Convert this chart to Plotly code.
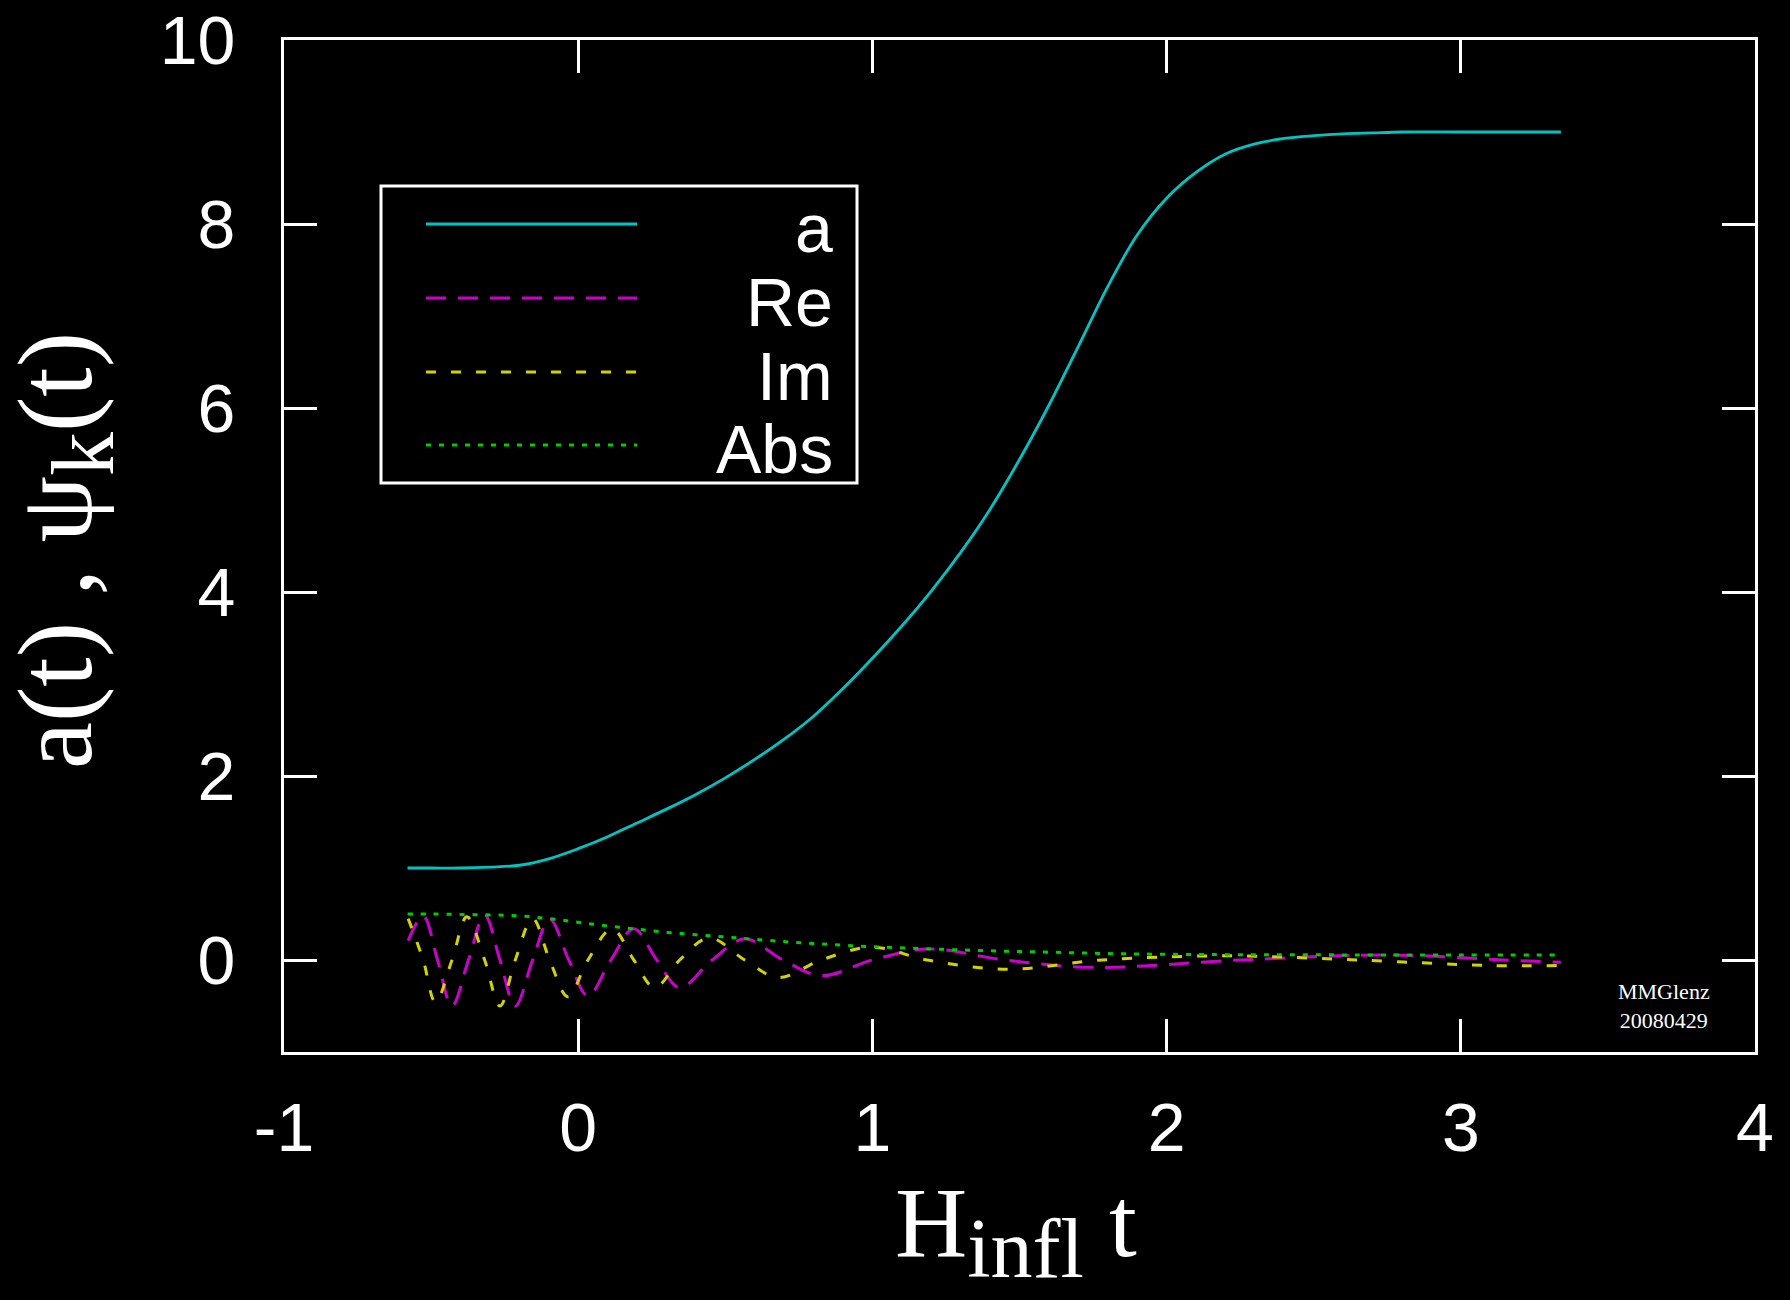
import plotly.graph_objects as go

# ---------------- data ----------------
t_a = [-0.58, -0.5, -0.4, -0.3, -0.2, -0.1, 0.0, 0.1, 0.2, 0.3, 0.4, 0.5, 0.6, 0.7,
       0.8, 0.9, 1.0, 1.1, 1.2, 1.3, 1.4, 1.5, 1.6, 1.7, 1.8, 1.9, 2.0, 2.1, 2.2,
       2.3, 2.4, 2.5, 2.6, 2.7, 2.8, 3.0, 3.2, 3.34]
a_vals = [1.00, 1.00, 1.00, 1.01, 1.03, 1.10, 1.21, 1.34, 1.49, 1.64, 1.80, 1.98, 2.18, 2.40,
          2.65, 2.95, 3.28, 3.63, 4.01, 4.43, 4.90, 5.44, 6.03, 6.67, 7.32, 7.88, 8.28, 8.56, 8.76,
          8.87, 8.93, 8.96, 8.98, 8.99, 9.00, 9.00, 9.00, 9.00]

t_re = [-0.578, -0.527, -0.478, -0.429, -0.373, -0.318, -0.266, -0.214, -0.155, -0.097,
        -0.032, 0.033, 0.111, 0.189, 0.267, 0.345, 0.455, 0.566, 0.696, 0.826, 1.0,
        1.186, 1.45, 1.75, 2.25, 2.75, 3.15, 3.34]
re_vals = [0.21, 0.48, 0.0, -0.50, 0.0, 0.49, 0.0, -0.50, 0.0, 0.445,
           0.0, -0.39, 0.0, 0.34, 0.0, -0.30, 0.0, 0.23, 0.0, -0.17, 0.0,
           0.12, 0.0, -0.08, 0.0, 0.055, 0.0, -0.025]

t_im = [-0.578, -0.527, -0.485, -0.429, -0.378, -0.318, -0.266, -0.214, -0.155, -0.097,
        -0.035, 0.033, 0.115, 0.189, 0.26, 0.345, 0.445, 0.566, 0.68, 0.826, 1.0,
        1.186, 1.46, 1.78, 2.2, 2.65, 3.1, 3.34]
im_vals = [0.45, 0.0, -0.46, 0.0, 0.47, 0.0, -0.50, 0.0, 0.45, 0.0,
           -0.40, 0.0, 0.34, 0.0, -0.30, 0.0, 0.24, 0.0, -0.19, 0.0, 0.14,
           0.0, -0.10, 0.0, 0.045, 0.0, -0.06, -0.06]

t_abs = [-0.58, -0.5, -0.4, -0.3, -0.2, -0.1, 0.0, 0.1, 0.2, 0.3, 0.4, 0.5, 0.6, 0.7,
         0.8, 0.9, 1.0, 1.2, 1.4, 1.6, 1.8, 2.0, 2.2, 2.5, 3.0, 3.34]
abs_vals = [0.50, 0.50, 0.495, 0.49, 0.48, 0.45, 0.41, 0.37, 0.335, 0.30, 0.275, 0.25, 0.225, 0.20,
            0.18, 0.16, 0.145, 0.12, 0.10, 0.085, 0.07, 0.062, 0.058, 0.056, 0.055, 0.055]

legend_names = ["a", "Re", "Im", "Abs"]
x_ticks = [-1, 0, 1, 2, 3, 4]
y_ticks = [0, 2, 4, 6, 8, 10]

# ---------------- styling ----------------
C_A = "#00c4c4"
C_RE = "#cc00cc"
C_IM = "#d2d200"
C_ABS = "#00cc00"
styles = [
    (C_A, "solid"),
    (C_RE, "20px,12px"),
    (C_IM, "10px,15px"),
    (C_ABS, "5px,8px"),
]
widths = [2.8, 3.0, 3.0, 3.0]

W, H = 1790, 1300
ML, MR, MT, MB = 284, 35, 40, 248
PW, PH = W - ML - MR, H - MT - MB


def px(xp):
    return (xp - ML) / PW


def py(yp):
    return (H - MB - yp) / PH


fig = go.Figure()
series = [(t_a, a_vals), (t_re, re_vals), (t_im, im_vals), (t_abs, abs_vals)]
for (xs, ys), name, (col, dash), lw in zip(series, legend_names, styles, widths):
    fig.add_trace(go.Scatter(
        x=xs, y=ys, mode="lines", name=name, showlegend=False,
        line=dict(color=col, width=lw, dash=dash, shape="spline", smoothing=1.0),
        hoverinfo="skip",
    ))

axis_common = dict(
    showline=True, linecolor="white", linewidth=3, mirror="allticks",
    ticks="inside", ticklen=33, tickwidth=2.5, tickcolor="white",
    showgrid=False, zeroline=False, automargin=False,
    tickfont=dict(family="Liberation Sans, Arial, sans-serif", size=68, color="white"),
)

fig.update_layout(
    width=W, height=H,
    margin=dict(l=ML, r=MR, t=MT, b=MB),
    paper_bgcolor="black", plot_bgcolor="black",
    xaxis=dict(range=[-1, 4], tickvals=x_ticks, ticktext=[str(v) for v in x_ticks],
               ticklabelstandoff=14, **axis_common),
    yaxis=dict(range=[-1, 10], tickvals=y_ticks, ticktext=[str(v) for v in y_ticks],
               ticklabelstandoff=32, **axis_common),
    showlegend=False,
)

# ---------------- legend box (gnuplot style) ----------------
shapes = [dict(type="rect", xref="paper", yref="paper",
               x0=px(381), x1=px(857), y0=py(483), y1=py(186),
               line=dict(color="white", width=3), fillcolor="black", layer="above")]
rows = [224, 298, 372, 445]
annotations = []
for name, (col, dash), ry in zip(legend_names, styles, rows):
    shapes.append(dict(type="line", xref="paper", yref="paper",
                       x0=px(426), x1=px(637), y0=py(ry), y1=py(ry),
                       line=dict(color=col, width=3, dash=dash), layer="above"))
    annotations.append(dict(text=name, xref="paper", yref="paper",
                            x=px(835), y=py(ry + 4), xanchor="right", yanchor="middle",
                            showarrow=False,
                            font=dict(family="Liberation Sans, Arial, sans-serif",
                                      size=68, color="white")))

# axis titles
serif = "Liberation Serif, Times New Roman, serif"
annotations.append(dict(
    text='H<sub><span style="font-size:84px">infl</span></sub> t',
    xref="paper", yref="paper", x=px(1016), y=py(1165),
    xanchor="center", yanchor="top", showarrow=False,
    font=dict(family=serif, size=100, color="white")))
annotations.append(dict(
    text='a(t) , ψ<sub><span style="font-size:88px">k</span></sub>(t)',
    xref="paper", yref="paper", x=px(64), y=py(551),
    xanchor="center", yanchor="middle", textangle=-90, showarrow=False,
    font=dict(family=serif, size=106, color="white")))
# signature
annotations.append(dict(
    text="MMGlenz<br>20080429", xref="paper", yref="paper",
    x=px(1664), y=py(1006), xanchor="center", yanchor="middle", showarrow=False,
    align="center",
    font=dict(family=serif, size=22, color="white")))

fig.update_layout(shapes=shapes, annotations=annotations)
fig.write_html(
    "out.html",
    config={"displayModeBar": False},
    post_script="document.body.style.margin='0';document.body.style.background='black';",
)
